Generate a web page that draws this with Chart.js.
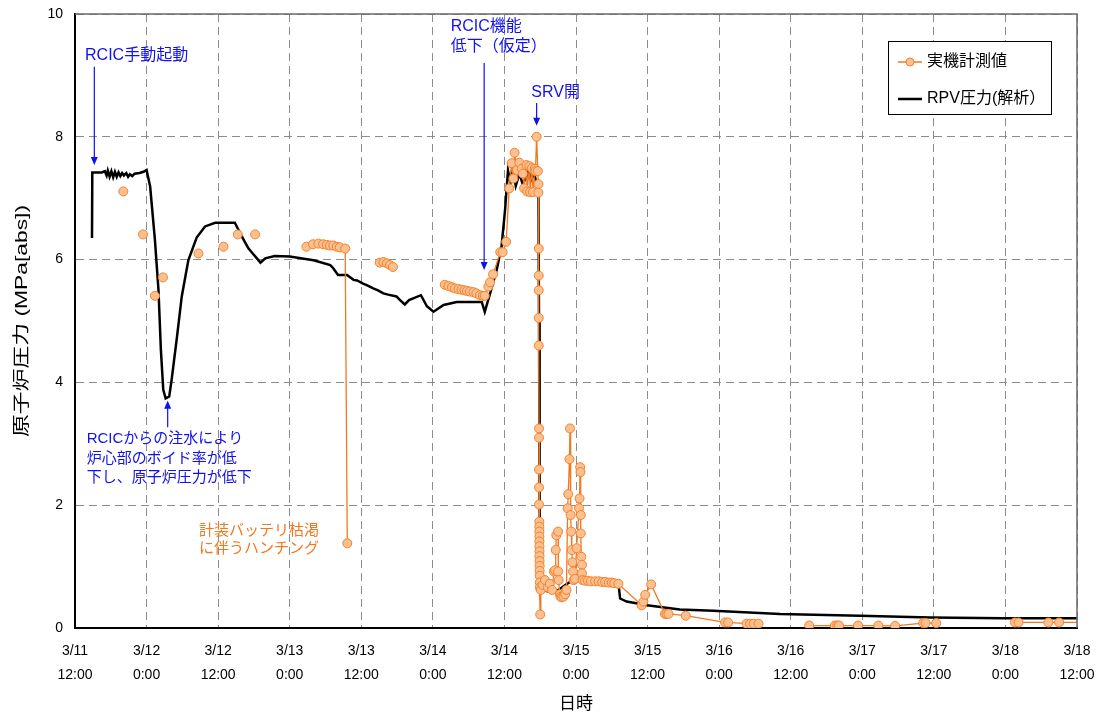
<!DOCTYPE html>
<html>
<head>
<meta charset="utf-8">
<script src="https://cdn.jsdelivr.net/npm/chart.js@4.4.1/dist/chart.umd.min.js"></script>
<style>
  body { margin: 0; background: #fff; }
  canvas { display: block; }
</style>
</head>
<body>
<canvas id="chart" width="1101" height="718"></canvas>
<script>
// hours since 3/11 12:00
const xTickLabels = [
  ['3/11', '12:00'], ['3/12', '0:00'], ['3/12', '12:00'], ['3/13', '0:00'], ['3/13', '12:00'],
  ['3/14', '0:00'], ['3/14', '12:00'], ['3/15', '0:00'], ['3/15', '12:00'], ['3/16', '0:00'],
  ['3/16', '12:00'], ['3/17', '0:00'], ['3/17', '12:00'], ['3/18', '0:00'], ['3/18', '12:00']
]
const yTicks = [0, 2, 4, 6, 8, 10]

// RPV pressure (analysis)
const calcHours = [2.85, 2.9, 4.5, 5.0, 5.3, 5.5, 5.8, 6.1, 6.4, 6.7, 7.0, 7.3, 7.6, 7.9, 8.2, 8.6, 8.9, 9.2, 9.6, 10.0,
  10.8, 11.5, 12.0, 12.6, 13.4, 14.0, 14.4, 14.8, 15.2, 15.8, 16.2, 17.1, 17.9, 19.0, 20.4, 21.8, 23.5, 26.8, 27.7, 28.4,
  29.1, 29.8, 30.5, 31.1, 31.9, 33.5, 36.0, 40.0, 42.8, 43.3, 44.1, 45.6, 46.7, 47.3, 48.3, 49.0, 50.0, 50.8, 51.7, 52.5,
  53.9, 54.5, 55.3, 56.0, 56.7, 58.0, 59.0, 60.1, 61.8, 64.0, 68.2, 68.7, 69.6, 70.7, 71.5, 72.1, 72.4, 72.6, 73.0, 73.4,
  73.9, 74.5, 75.0, 75.5, 76.0, 76.5, 77.0, 77.5, 77.7, 77.8, 77.9, 78.0, 80.5, 82.2, 83.0, 84.7, 91.1, 91.4, 92.5, 95.9,
  101.4, 107, 118.2, 131.6, 143.4, 155.6, 168]
const calcValues = [6.35, 7.42, 7.42, 7.44, 7.37, 7.45, 7.35, 7.44, 7.34, 7.43, 7.35, 7.42, 7.36, 7.41, 7.37, 7.41, 7.35, 7.39, 7.36, 7.40,
  7.41, 7.43, 7.46, 7.19, 6.32, 5.5, 4.53, 3.88, 3.74, 3.77, 4.04, 4.74, 5.40, 5.99, 6.36, 6.54, 6.60, 6.60, 6.43, 6.30,
  6.18, 6.10, 6.02, 5.95, 6.02, 6.06, 6.05, 5.99, 5.91, 5.86, 5.75, 5.75, 5.67, 5.66, 5.61, 5.58, 5.53, 5.50, 5.45, 5.43,
  5.40, 5.34, 5.27, 5.34, 5.37, 5.42, 5.24, 5.15, 5.26, 5.31, 5.31, 5.15, 5.45, 5.83, 6.20, 6.80, 7.20, 7.45, 7.25, 7.45,
  7.20, 7.40, 7.25, 7.30, 7.45, 7.30, 7.40, 7.20, 7.20, 5.0, 2.0, 0.62, 0.58, 0.70, 0.75, 0.78, 0.74, 0.48, 0.43, 0.37,
  0.30, 0.28, 0.23, 0.20, 0.17, 0.16, 0.16]

// measured values (null = gap in the line)
const measHours = [8.1, 9.7, 11.4, 12.4, 13.4, 14.0, 14.75, 17.7, 20.7, 22.8, 24.9, 26.1, 27.3, 28.7, 30.2, 34.5,
  38.8, 39.9, 40.8, 41.6, 42.2, 42.75, 43.3, 43.9, 44.4, 45.3, 45.65, 48.4,
  51.1, 51.7, 52.3, 52.8, 53.3, 57.6,
  62.0, 62.6, 63.2, 63.7, 64.3, 64.8, 65.3, 65.7, 66.2, 66.8, 67.3, 67.9, 68.4, 68.7, 69.3, 69.6, 70.1, 71.3, 71.7, 72.3,
  72.8, 73.2, 73.5, 73.7, 74.1, 74.5, 74.9, 75.1, 75.3, 75.7, 75.8, 76.2, 76.3, 76.6, 76.8, 77.1, 77.2, 77.4, 77.6, 77.7,
  77.7, 77.75, 77.75, 77.75, 77.75, 77.75, 77.8, 77.8, 77.8, 77.8, 77.8, 77.85, 77.85, 77.86, 77.86, 77.87, 77.87, 77.88,
  77.88, 77.89, 77.9, 77.9, 77.92, 77.93, 77.95, 78.0, 78.1, 78.4, 78.8, 79.3, 79.6, 80.0, 80.3, 80.5, 80.6, 80.7, 81.0,
  81.0, 81.1, 81.3, 81.4, 81.6, 81.9, 82.2, 82.4, 82.6, 82.7, 82.9, 83.0, 83.1, 83.2, 83.3, 83.4, 83.5, 83.6, 83.8, 84.1,
  84.5, 84.6, 84.7, 84.75, 84.8, 84.8, 84.9, 85.0, 85.0, 85.1, 85.5, 86.0, 86.5, 87.2, 87.8, 88.4, 88.9, 89.5, 90.0, 90.4,
  91.1, 95.0, 95.3, 95.6, 96.6, 98.9, 99.2, 99.5, 102.4, 109.0, 109.5, 112.6, 113.2, 113.8, 114.6, 118.8,
  123.1, 127.4, 127.8, 128.1, 131.3, 134.7, 137.5, 142.2, 142.6, 144.4, 151.0,
  157.6, 158.2, 163.2, 165.0, 169.5]
const measValues = [7.11, null, 6.41, null, 5.41, null, 5.71, null, 6.10, null, 6.21, null, 6.41, null, 6.41, null,
  6.21, 6.25, 6.26, 6.25, 6.24, 6.23, 6.23, 6.21, 6.20, 6.18, 1.38, null,
  5.95, 5.96, 5.94, 5.91, 5.88, null,
  5.59, 5.57, 5.55, 5.53, 5.52, 5.51, 5.50, 5.49, 5.48, 5.47, 5.45, 5.42, 5.41, 5.41, 5.56, 5.63, 5.76, 6.12, 6.12, 6.29,
  7.16, 7.57, 7.32, 7.74, 7.46, 7.58, 7.48, 7.40, 7.16, 7.54, 7.11, 7.52, 7.10, 7.49, 7.10, 7.48, 7.44, 8.0, 7.44, 7.23,
  7.09, 6.18, 5.74, 5.5, 5.05, 4.6, 3.25, 3.1, 2.58, 2.29, 2.01, 1.73, 1.65, 1.57, 1.49, 1.41, 1.33, 1.25,
  1.17, 1.09, 1.01, 0.93, 0.85, 0.74, 0.66, 0.22, 0.62, 0.70, 0.78, 0.66, 0.72, 0.62, 0.92, 0.94, 1.27, 1.51, 1.57,
  0.92, 0.78, 0.55, 0.51, 0.50, 0.51, 0.55, 0.62, 1.95, 2.18, 2.75, 3.25, 1.84, 1.57, 1.27, 1.07, 0.92, 0.78, 0.80, 1.30,
  1.95, 2.11, 2.62, 2.54, 1.84, 1.54, 1.16, 1.03, 0.89, 0.78, 0.77, 0.77, 0.76, 0.76, 0.76, 0.75, 0.75, 0.74, 0.74, 0.73,
  0.72, 0.37, 0.43, 0.54, 0.71, 0.23, 0.23, 0.23, 0.20, 0.09, 0.09, 0.07, 0.07, 0.07, 0.07, null,
  0.04, 0.04, 0.04, 0.04, 0.04, 0.04, 0.035, 0.08, 0.08, 0.08, null,
  0.09, 0.09, 0.09, 0.09, 0.09]

const BLUE = '#1010f0'
const ORANGE = '#f07820'
Chart.defaults.font.family = "'Liberation Sans', Arial, 'Noto Sans CJK JP', sans-serif"
Chart.defaults.color = '#000'

function arrow(ctx, x1, y1, x2, y2, color) {
  var ang = Math.atan2(y2 - y1, x2 - x1)
  ctx.strokeStyle = color
  ctx.fillStyle = color
  ctx.lineWidth = 1.2
  ctx.beginPath()
  ctx.moveTo(x1, y1)
  ctx.lineTo(x2 - 6 * Math.cos(ang), y2 - 6 * Math.sin(ang))
  ctx.stroke()
  ctx.beginPath()
  ctx.moveTo(x2, y2)
  ctx.lineTo(x2 - 8 * Math.cos(ang) + 3.5 * Math.sin(ang), y2 - 8 * Math.sin(ang) - 3.5 * Math.cos(ang))
  ctx.lineTo(x2 - 8 * Math.cos(ang) - 3.5 * Math.sin(ang), y2 - 8 * Math.sin(ang) + 3.5 * Math.cos(ang))
  ctx.closePath()
  ctx.fill()
}

function lines(ctx, txt, x, ys, color, size) {
  ctx.fillStyle = color
  ctx.font = size + "px 'Liberation Sans', Arial, 'Noto Sans CJK JP', sans-serif"
  ctx.textAlign = 'left'
  ctx.textBaseline = 'middle'
  for (var i = 0; i < txt.length; i++) ctx.fillText(txt[i], x, ys[i])
}

const overlay = {
  id: 'overlay',
  afterDraw(chart) {
    const ctx = chart.ctx, a = chart.chartArea, xs = chart.scales.x, ys = chart.scales.y
    const px = v => xs.getPixelForValue(v), py = v => ys.getPixelForValue(v)
    ctx.save()
    // frame top / right
    ctx.strokeStyle = '#6a6a6a'
    ctx.lineWidth = 1.5
    ctx.beginPath()
    ctx.moveTo(a.left, a.top)
    ctx.lineTo(a.right, a.top)
    ctx.lineTo(a.right, a.bottom)
    ctx.stroke()

    // annotations
    lines(ctx, ['RCIC手動起動'], px(1.68), [py(9.33)], BLUE, 16)
    arrow(ctx, px(3.24), py(9.14), px(3.24), py(7.54), BLUE)

    lines(ctx, ['RCIC機能', '低下（仮定）'], px(63.0), [py(9.79), py(9.47)], BLUE, 16)
    arrow(ctx, px(68.6), py(9.2), px(68.6), py(5.83), BLUE)

    lines(ctx, ['SRV開'], px(76.5), [py(8.72)], BLUE, 16)
    arrow(ctx, px(77.4), py(8.55), px(77.4), py(8.18), BLUE)

    lines(ctx, ['RCICからの注水により', '炉心部のボイド率が低', '下し、原子炉圧力が低下'],
      px(1.96), [py(3.08), py(2.75), py(2.44)], BLUE, 15)
    arrow(ctx, px(15.54), py(3.27), px(15.54), py(3.70), BLUE)

    lines(ctx, ['計装バッテリ枯渇', 'に伴うハンチング'], px(20.8), [py(1.58), py(1.29)], ORANGE, 15)

    // legend
    ctx.fillStyle = '#fff'
    ctx.fillRect(888, 41, 163, 73)
    ctx.strokeStyle = '#000'
    ctx.lineWidth = 1
    ctx.strokeRect(888.5, 41.5, 163, 73)
    ctx.strokeStyle = ORANGE
    ctx.lineWidth = 1.5
    ctx.beginPath(); ctx.moveTo(898, 62); ctx.lineTo(922, 62); ctx.stroke()
    ctx.beginPath(); ctx.arc(910, 62, 4, 0, Math.PI * 2)
    ctx.fillStyle = '#fbc08f'; ctx.fill()
    ctx.strokeStyle = '#f6802a'; ctx.lineWidth = 1; ctx.stroke()
    ctx.strokeStyle = '#000'; ctx.lineWidth = 2.5
    ctx.beginPath(); ctx.moveTo(898, 99); ctx.lineTo(922, 99); ctx.stroke()
    lines(ctx, ['実機計測値', 'RPV圧力(解析）'], 927, [62, 99], '#000', 16)

    // axis titles
    ctx.fillStyle = '#000'
    ctx.font = "17px 'Liberation Sans', Arial, 'Noto Sans CJK JP', sans-serif"
    ctx.textAlign = 'center'
    ctx.textBaseline = 'middle'
    ctx.fillText('日時', (a.left + a.right) / 2, 704)
    var yt = '原子炉圧力 (MPa[abs])'
    ctx.translate(22, (a.top + a.bottom) / 2)
    ctx.rotate(-Math.PI / 2)
    var w = ctx.measureText(yt).width
    ctx.scale(Math.max(1, 232 / w), 1)
    ctx.fillText(yt, 0, 0)
    ctx.restore()
  }
}

const gridOpts = { color: '#8c8c8c', lineWidth: 1, drawTicks: false }
const borderOpts = { display: true, color: '#000', width: 2, dash: [8, 5] }

new Chart(document.getElementById('chart'), {
  type: 'line',
  data: {
    datasets: [
      {
        label: '実機計測値',
        data: measHours.map((h, i) => ({ x: h, y: measValues[i] })),
        borderColor: ORANGE,
        borderWidth: 1.3,
        pointRadius: 4.5,
        pointBorderWidth: 1,
        pointBackgroundColor: '#fbc08f',
        pointBorderColor: '#f6802a',
        spanGaps: false,
        tension: 0,
        order: 1
      },
      {
        label: 'RPV圧力(解析）',
        data: calcHours.map((h, i) => ({ x: h, y: calcValues[i] })),
        borderColor: '#000',
        borderWidth: 2.5,
        pointRadius: 0,
        tension: 0,
        order: 2
      }
    ]
  },
  options: {
    responsive: false,
    animation: false,
    devicePixelRatio: 1,
    layout: { padding: { left: 0, right: 24, top: 14, bottom: 0 } },
    plugins: { legend: { display: false }, tooltip: { enabled: false } },
    scales: {
      x: {
        type: 'linear',
        min: 0,
        max: 168,
        grid: gridOpts,
        border: borderOpts,
        afterFit: s => { s.height = 90; s.paddingLeft = 0; s.paddingRight = 0 },
        afterBuildTicks: s => { s.ticks = xTickLabels.map((l, i) => ({ value: i * 12 })) },
        ticks: {
          padding: 12,
          maxRotation: 0,
          autoSkip: false,
          font: { size: 14, lineHeight: 1.65 },
          callback: v => xTickLabels[Math.round(v / 12)]
        }
      },
      y: {
        min: 0,
        max: 10,
        grid: gridOpts,
        border: borderOpts,
        afterFit: s => { s.width = 75; s.paddingTop = 0; s.paddingBottom = 0 },
        afterBuildTicks: s => { s.ticks = yTicks.map(v => ({ value: v })) },
        ticks: { padding: 12, font: { size: 14 } }
      }
    }
  },
  plugins: [overlay]
})
</script>
</body>
</html>
